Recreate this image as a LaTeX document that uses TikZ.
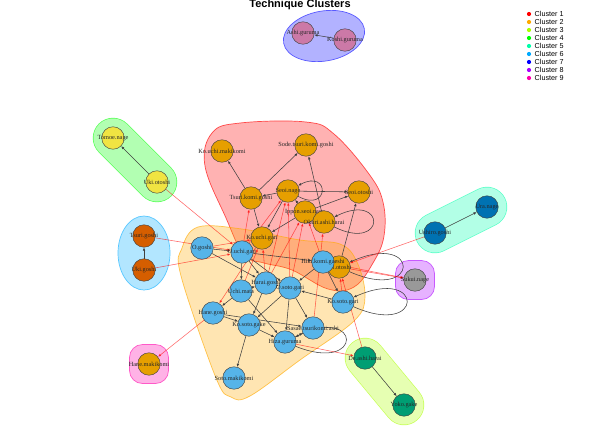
\documentclass[tikz,border=0pt]{standalone}
\usepackage{fontspec}
\setmainfont{Liberation Serif}
\newfontfamily\legendfont{Liberation Sans}
\usetikzlibrary{arrows.meta,calc}
\pgfdeclarelayer{hulls}
\pgfdeclarelayer{edges}
\pgfsetlayers{hulls,edges,main}

% hull colours (one per cluster)
\definecolor{hc1}{HTML}{FF0000}
\definecolor{hc2}{HTML}{FFAA00}
\definecolor{hc3}{HTML}{AAFF00}
\definecolor{hc4}{HTML}{00FF00}
\definecolor{hc5}{HTML}{00FFAA}
\definecolor{hc6}{HTML}{00AAFF}
\definecolor{hc7}{HTML}{0000FF}
\definecolor{hc8}{HTML}{AA00FF}
\definecolor{hc9}{HTML}{FF00AA}
% vertex colours
\definecolor{nc1}{HTML}{E69F00}
\definecolor{nc2}{HTML}{56B4E9}
\definecolor{nc3}{HTML}{009E73}
\definecolor{nc4}{HTML}{F0E442}
\definecolor{nc5}{HTML}{0072B2}
\definecolor{nc6}{HTML}{D55E00}
\definecolor{nc7}{HTML}{CC79A7}
\definecolor{nc8}{HTML}{999999}

\tikzset{
  tech/.style={circle, draw=black!75, line width=0.45pt, fill=#1, minimum size=22.5pt, inner sep=0pt},
  every label/.style={font=\fontsize{6.3}{7}\selectfont, inner sep=0pt, text=black!85},
  intra/.style={draw=black!75, line width=0.55pt, -{Latex[length=3.2pt,width=2.6pt]}},
  inter/.style={draw=red, opacity=0.6, line width=0.55pt, -{Latex[length=3.2pt,width=2.6pt]}},
  bighull/.style={draw=#1, draw opacity=0.65, line width=0.7pt, fill=#1, fill opacity=0.3},
}
\def\pairhull(#1)(#2)#3{%
  \draw[line width=40.4pt, line cap=round, color=#3!65] (#1.center) -- (#2.center);
  \draw[line width=39pt, line cap=round, color=#3!30] (#1.center) -- (#2.center);}
\def\onehull(#1)#2{%
  \draw[draw=#2!65, fill=#2!30, line width=0.7pt, rounded corners=13pt] ($(#1)+(-19.5,-19.5)$) rectangle ($(#1)+(19.5,19.5)$);}

\begin{document}
\begin{tikzpicture}[x=1pt, y=-1pt]
%%%%% START %%%%%
\useasboundingbox (0,0) rectangle (600,440);
\node[font=\legendfont\bfseries\fontsize{11}{12}\selectfont, anchor=base] (title) at (300,7.5) {Technique Clusters};

% legend
\foreach \k/\c in {1/hc1,2/hc2,3/hc3,4/hc4,5/hc5,6/hc6,7/hc7,8/hc8,9/hc9}{
  \fill[\c] (529,{14+8*(\k-1)}) circle (2.1);
  \node[anchor=west, inner sep=0pt, font=\legendfont\fontsize{7.2}{8}\selectfont] (leg\k) at (534.5,{14+8*(\k-1)}) {Cluster \k};
}

% cluster 1
\node[tech=nc1, label=center:Ko.uchi.makikomi] (koumaki) at (222,151) {};
\node[tech=nc1, label=center:Sode.tsuri.komi.goshi] (sode) at (306,145) {};
\node[tech=nc1, label=center:Tsuri.komi.goshi] (tsurikomi) at (251,198) {};
\node[tech=nc1, label=center:Seoi.nage] (seoinage) at (288,191) {};
\node[tech=nc1, label=center:Seoi.otoshi] (seoiotoshi) at (359,192) {};
\node[tech=nc1, label=center:Ippon.seoi.nage] (ippon) at (305,212) {};
\node[tech=nc1, label=center:Okuri.ashi.harai] (okuri) at (324,222) {};
\node[tech=nc1, label=center:Ko.uchi.gari] (kouchi) at (262,238) {};
\node[tech=nc1, label=center:Tai.otoshi] (taiotoshi) at (339,267) {};
% cluster 2
\node[tech=nc2, label=center:O.goshi] (ogoshi) at (202,248) {};
\node[tech=nc2, label=center:O.uchi.gari] (ouchi) at (242,252) {};
\node[tech=nc2, label=center:Hiki.komi.gaeshi] (hiki) at (323,262) {};
\node[tech=nc2, label=center:Uchi.mata] (uchimata) at (241,291) {};
\node[tech=nc2, label=center:Harai.goshi] (harai) at (266,283) {};
\node[tech=nc2, label=center:O.soto.gari] (osoto) at (290,288) {};
\node[tech=nc2, label=center:Ko.soto.gari] (kosotogari) at (343,302) {};
\node[tech=nc2, label=center:Hane.goshi] (hanegoshi) at (213,313) {};
\node[tech=nc2, label=center:Ko.soto.gake] (kosotogake) at (249,325) {};
\node[tech=nc2, label=center:Sasae.tsurikomi.ashi] (sasae) at (313,328) {};
\node[tech=nc2, label=center:Hiza.guruma] (hiza) at (285,342) {};
\node[tech=nc2, label=center:Soto.makikomi] (sotomaki) at (234,378) {};
% small clusters
\node[tech=nc3, label=center:De.ashi.harai] (deashi) at (365,358) {};
\node[tech=nc3, label=center:Yoko.gake] (yoko) at (404,405) {};
\node[tech=nc4, label=center:Tomoe.nage] (tomoe) at (113,138) {};
\node[tech=nc4, label=center:Uki.otoshi] (ukiotoshi) at (157,182) {};
\node[tech=nc5, label=center:Ushiro.goshi] (ushiro) at (435,233) {};
\node[tech=nc5, label=center:Ura.nage] (ura) at (487,207) {};
\node[tech=nc6, label=center:Tsuri.goshi] (tsurigoshi) at (144,236) {};
\node[tech=nc6, label=center:Uki.goshi] (ukigoshi) at (144,270) {};
\node[tech=nc7, label=center:Ashi.guruma] (ashi) at (303,33) {};
\node[tech=nc7, label=center:Koshi.guruma] (koshi) at (345,40) {};
\node[tech=nc8, label=center:Sukui.nage] (sukui) at (415,280) {};
\node[tech=nc1, label=center:Hane.makikomi] (hanemaki) at (149,364) {};

% hulls
\begin{pgfonlayer}{hulls}
  \fill[white] (0,0) rectangle (600,440);
  \draw[bighull=hc1] plot[smooth cycle, tension=0.65] coordinates {
    (205,166) (212,133) (240,123) (306,122) (334,134) (369,174) (383,202)
    (384,236) (373,263) (354,287) (328,289) (292,270) (264,263) (244,255) (226,218)};
  \draw[bighull=hc2] plot[smooth cycle, tension=0.6] coordinates {
    (182,248) (198,227) (242,229) (300,240) (340,244) (357,262) (365,296)
    (354,321) (300,360) (250,396) (231,397) (216,378) (181,276)};
  \pairhull(deashi)(yoko){hc3}
  \pairhull(tomoe)(ukiotoshi){hc4}
  \pairhull(ushiro)(ura){hc5}
  \draw[draw=hc6!65, fill=hc6!30, line width=0.7pt] (144,253) ellipse [x radius=26, y radius=37];
  \draw[draw=hc7!65, fill=hc7!30, line width=0.7pt, rotate around={10:(324,36)}] (324,36) ellipse [x radius=41, y radius=25];
  \onehull(sukui){hc8}
  \onehull(hanemaki){hc9}
\end{pgfonlayer}

\begin{pgfonlayer}{edges}
  % inside the clusters
  \draw[intra] (koshi) -- (ashi);
  \draw[intra] (ukiotoshi) -- (tomoe);
  \draw[intra] (ukigoshi) -- (tsurigoshi);
  \draw[intra] (ushiro) -- (ura);
  \draw[intra] (deashi) -- (yoko);
  \draw[intra] (tsurikomi) -- (koumaki);
  \draw[intra] (tsurikomi) -- (sode);
  \draw[intra] (seoinage) -- (tsurikomi);
  \draw[intra] (seoinage) -- (seoiotoshi);
  \draw[intra] (ippon) -- (seoiotoshi);
  \draw[intra] (ippon) -- (seoinage);
  \draw[intra] (okuri) -- (sode);
  \draw[intra] (taiotoshi) -- (seoiotoshi);
  \draw[intra] (seoinage) -- (kouchi);
  \draw[intra] (ippon) -- (kouchi);
  \draw[intra] (tsurikomi) -- (kouchi);
  \draw[intra] (seoinage) to[out=-28, in=28, min distance=36pt] (seoinage);
  \draw[intra] (okuri) to[out=-26, in=26, min distance=58pt] (okuri);
  \draw[intra] (taiotoshi) to[out=-24, in=24, min distance=78pt] (taiotoshi);
  \draw[intra] (ogoshi) -- (ouchi);
  \draw[intra] (ogoshi) -- (harai);
  \draw[intra] (ouchi) -- (uchimata);
  \draw[intra] (ouchi) -- (harai);
  \draw[intra] (ouchi) -- (osoto);
  \draw[intra] (ouchi) -- (hiki);
  \draw[intra] (harai) -- (osoto);
  \draw[intra] (uchimata) -- (harai);
  \draw[intra] (uchimata) -- (hanegoshi);
  \draw[intra] (hanegoshi) -- (kosotogake);
  \draw[intra] (harai) -- (kosotogake);
  \draw[intra] (osoto) -- (kosotogake);
  \draw[intra] (osoto) -- (hiza);
  \draw[intra] (osoto) -- (sasae);
  \draw[intra] (uchimata) -- (hiza);
  \draw[intra] (hanegoshi) -- (sasae);
  \draw[intra] (kosotogake) -- (hiza);
  \draw[intra] (hiza) -- (sasae);
  \draw[intra] (kosotogake) -- (sotomaki);
  \draw[intra] (kosotogari) -- (osoto);
  \draw[intra] (hiki) -- (osoto);
  \draw[intra] (hiki) -- (kosotogari);
  \draw[intra] (hiza) to[out=-22, in=26, min distance=74pt] (hiza);
  \draw[intra] (kosotogari) to[out=-24, in=24, min distance=78pt] (kosotogari);
  % between the clusters
  \draw[inter] (ukiotoshi) -- (ouchi);
  \draw[inter] (tsurigoshi) -- (ouchi);
  \draw[inter] (ukigoshi) -- (ouchi);
  \draw[inter] (hanegoshi) -- (hanemaki);
  \draw[inter] (ushiro) -- (taiotoshi);
  \draw[inter] (taiotoshi) -- (sukui);
  \draw[inter] (hiki) -- (sukui);
  \draw[inter] (hiza) -- (deashi);
  \draw[inter] (deashi) -- (taiotoshi);
  \draw[inter] (ouchi) -- (tsurikomi);
  \draw[inter] (ogoshi) -- (kouchi);
  \draw[inter] (uchimata) -- (kouchi);
  \draw[inter] (harai) -- (seoinage);
  \draw[inter] (osoto) -- (seoinage);
  \draw[inter] (osoto) -- (ippon);
  \draw[inter] (hiki) -- (ippon);
  \draw[inter] (harai) -- (ippon);
  \draw[inter] (sasae) -- (okuri);
  \draw[inter] (kosotogari) -- (taiotoshi);
  \draw[inter] (kouchi) -- (hanegoshi);
  \draw[inter] (harai) -- (kouchi);
  \draw[inter] (ouchi) -- (seoinage);
\end{pgfonlayer}
%%%%% END %%%%%
\end{tikzpicture}
\end{document}
